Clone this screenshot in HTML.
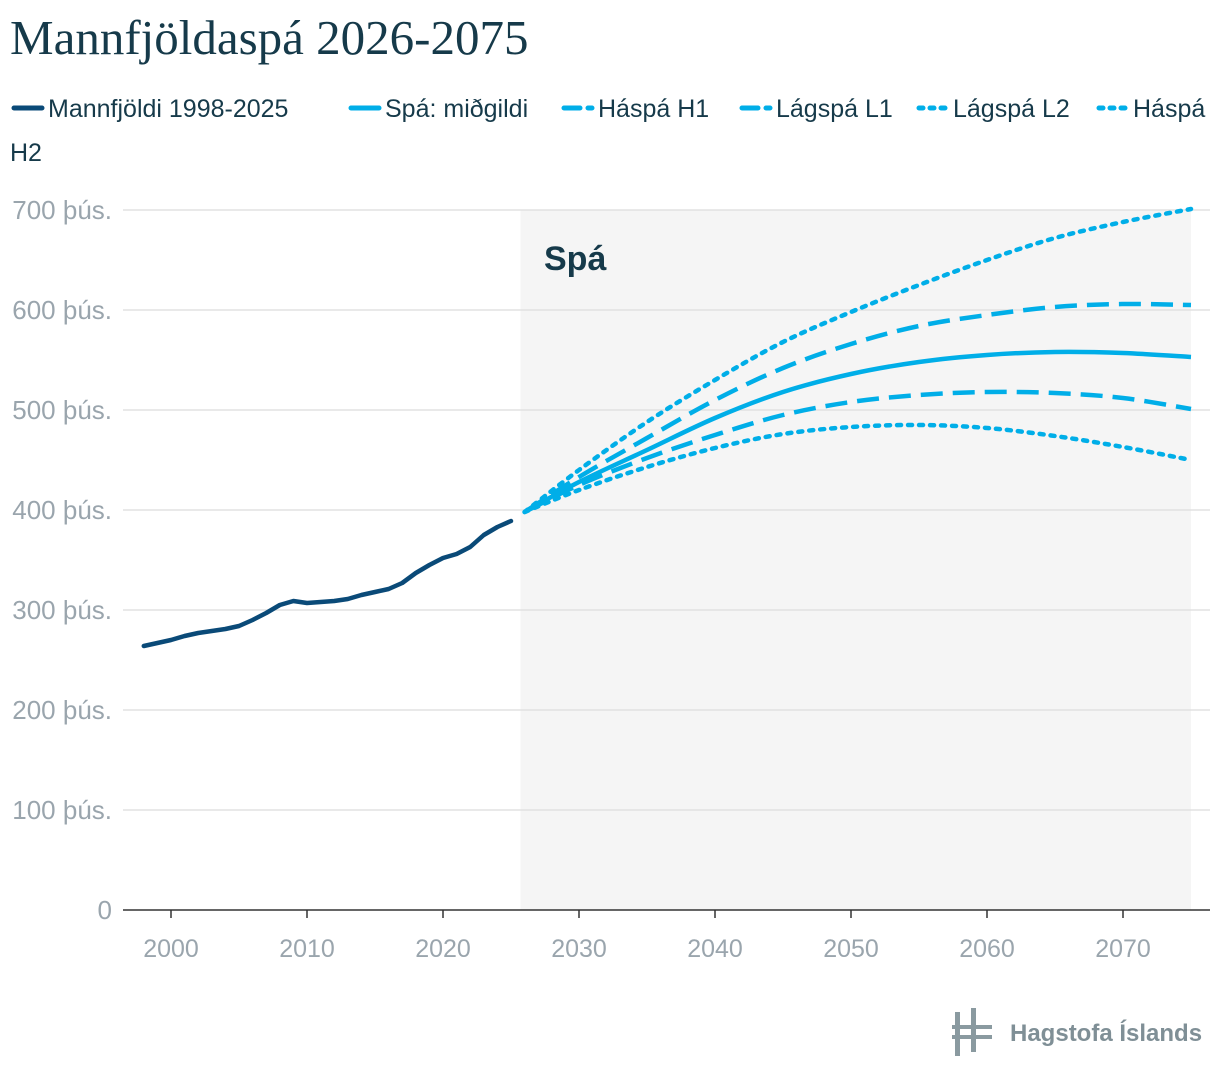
<!DOCTYPE html>
<html><head><meta charset="utf-8">
<style>
body{margin:0;background:#fff;width:1220px;height:1084px;overflow:hidden;font-family:"Liberation Sans",sans-serif}
</style></head>
<body>
<svg width="1220" height="1084" xmlns="http://www.w3.org/2000/svg">
<text x="10" y="54" font-family="Liberation Serif, serif" font-size="49" fill="#163a4a">Mannfjöldaspá 2026-2075</text>
<g id="legend" font-size="25" fill="#163a4a"></g>
<g id="plot"></g>
<g>
<rect x="955" y="1012" width="5" height="44" fill="#8a9aa0"/>
<rect x="971" y="1008" width="5" height="44" fill="#8a9aa0"/>
<rect x="952" y="1025" width="40" height="4" fill="#8a9aa0"/>
<rect x="952" y="1035" width="40" height="4" fill="#8a9aa0"/>
<text x="1010" y="1041" font-size="24" font-weight="bold" fill="#7f8f96">Hagstofa Íslands</text>
</g>
</svg>
<script>
const years=[1998,1999,2000,2001,2002,2003,2004,2005,2006,2007,2008,2009,2010,2011,2012,2013,2014,2015,2016,2017,2018,2019,2020,2021,2022,2023,2024,2025];
const hist=[264,267,270,274,277,279,281,284,290,297,305,309,307,308,309,311,315,318,321,327,337,345,352,356,363,375,383,389];
const fYears=[2026,2030,2035,2040,2045,2050,2055,2060,2065,2070,2075];
const median=[398,428,460,492,518,536,548,555,558,557,553];
const high1=[398,433,472,510,542,566,584,595,603,606,605];
const low1=[398,425,452,475,495,508,515,518,517,512,501];
const low2=[398,420,443,462,476,483,485,482,474,463,450];
const high2=[398,440,488,530,568,598,625,650,672,688,701];
const yTicks=[0,100,200,300,400,500,600,700];
const xTicks=[2000,2010,2020,2030,2040,2050,2060,2070];
const NS="http://www.w3.org/2000/svg";
const X=y=>171+(y-2000)*13.6;
const Y=v=>910-v;
const plot=document.getElementById('plot');
function mk(t,a,p){const e=document.createElementNS(NS,t);for(const k in a)e.setAttribute(k,a[k]);(p||plot).appendChild(e);return e;}
const shade=mk('rect',{x:X(2025.7),y:Y(700),width:X(2075)-X(2025.7),height:700,fill:'#f5f5f5'});


const sl=mk('text',{x:544,y:270,'font-size':34,'font-weight':'bold',fill:'#163a4a'});sl.textContent='Spá';


yTicks.forEach(v=>{
 if(v>0){const g=mk('line',{x1:123,x2:1210,y1:Y(v),y2:Y(v),stroke:'#e2e2e2','stroke-width':1.5});
 
 }
 const t=mk('text',{x:112,y:Y(v)+9,'text-anchor':'end','font-size':26,fill:'#9aa5ad'});t.textContent=v?v+' þús.':'0';
 
 
});
const ax=mk('line',{x1:123,x2:1210,y1:910,y2:910,stroke:'#333','stroke-width':1.5});


xTicks.forEach(y=>{
 mk('line',{x1:X(y),x2:X(y),y1:910,y2:918,stroke:'#333','stroke-width':1.5});
 const t=mk('text',{x:X(y),y:957,'text-anchor':'middle','font-size':25,fill:'#9aa5ad'});t.textContent=y;
 
 
});
function smooth(xs,vs){const p=xs.map((x,i)=>[X(x),Y(vs[i])]);let d='M'+p[0];
 for(let i=0;i<p.length-1;i++){const p0=p[i-1]||p[i],p1=p[i],p2=p[i+1],p3=p[i+2]||p2;
 d+=' C'+(p1[0]+(p2[0]-p0[0])/6)+','+(p1[1]+(p2[1]-p0[1])/6)+' '+(p2[0]-(p3[0]-p1[0])/6)+','+(p2[1]-(p3[1]-p1[1])/6)+' '+p2;}return d;}
const h=mk('path',{d:'M'+years.map((y,i)=>X(y)+','+Y(hist[i])).join(' L'),fill:'none',stroke:'#0a4a78','stroke-width':4.5,'stroke-linejoin':'round','stroke-linecap':'round'});


const series=[[median,'','series-median'],[high1,'22 10','series-high-h1'],[low1,'22 10','series-low-l1'],[low2,'4 7','series-low-l2'],[high2,'4 7','series-high-h2']];
series.forEach(([v,da,n])=>{const p=mk('path',{d:smooth(fYears,v),fill:'none',stroke:'#00aee8','stroke-width':4.5,'stroke-dasharray':da,'stroke-linecap':da==='4 7'?'round':'butt'});
 
 });
const lg=document.getElementById('legend');
const items=[['Mannfjöldi 1998-2025','','#0a4a78',12,117],['Spá: miðgildi','','#00aee8',349,117],['Háspá H1','16 8','#00aee8',562,117],['Lágspá L1','16 8','#00aee8',740,117],['Lágspá L2','4 7','#00aee8',917,117],['Háspá','4 7','#00aee8',1097,117]];
items.forEach(([t,da,c,x,y])=>{
 const l=mk('line',{x1:x+2,x2:x+30,y1:y-9,y2:y-9,stroke:c,'stroke-width':5,'stroke-dasharray':da,'stroke-linecap':'round'},lg);
 const tx=mk('text',{x:x+36,y:y},lg);tx.textContent=t;
 
 
});
const t2=mk('text',{x:10,y:161},lg);t2.textContent='H2';


</script>
</body></html>
